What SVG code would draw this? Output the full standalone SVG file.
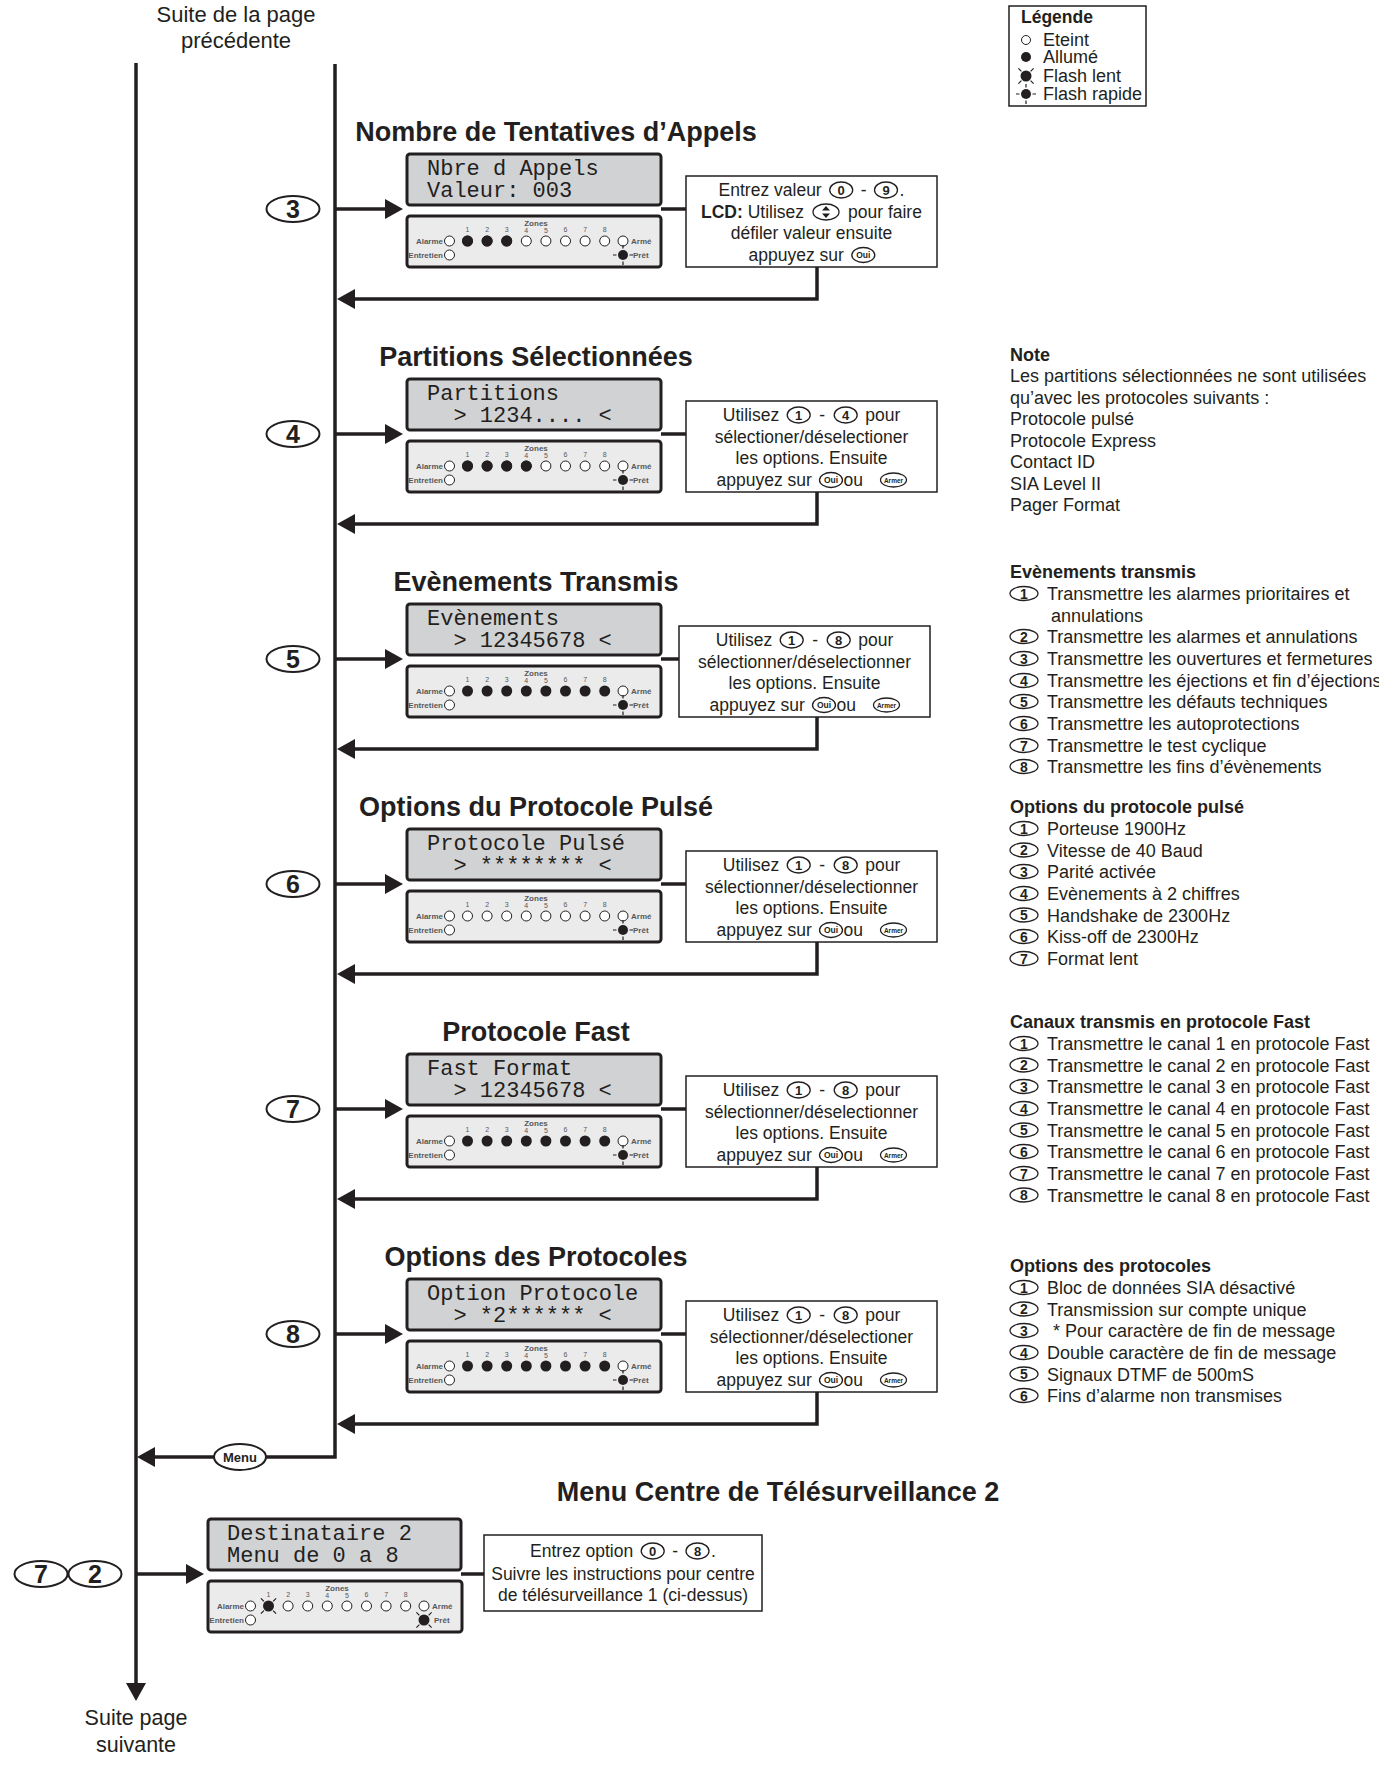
<svg xmlns="http://www.w3.org/2000/svg" width="1379" height="1765" viewBox="0 0 1379 1765">
<style>
text{font-family:"Liberation Sans",Arial,sans-serif;fill:#231f20}
.ln{stroke:#231f20;stroke-width:3.5;fill:none}
.lcd{fill:#d1d2d4;stroke:#231f20;stroke-width:3}
.pnl{fill:#ebebec;stroke:#231f20;stroke-width:3}
.box{fill:#fff;stroke:#231f20;stroke-width:1.5}
.ttl{font-weight:bold;font-size:27px;text-anchor:middle}
.lcdt{font-family:"Liberation Mono","DejaVu Sans Mono",monospace;font-size:22px}
.bt{font-size:17.5px}
.bm{font-size:17.5px;text-anchor:middle}
.rt{font-size:18px}
.rh{font-size:18px;font-weight:bold}
.led{fill:#fff;stroke:#231f20;stroke-width:1}
.on{fill:#231f20}
.pt{font-size:8px;font-weight:bold;fill:#58595b}
.dg{font-size:7px;fill:#58595b;text-anchor:middle}
.key{fill:#fff;stroke:#231f20;stroke-width:1.3}
.kn{font-size:13px;font-weight:bold;text-anchor:middle}
.ko{font-size:8.5px;font-weight:bold;text-anchor:middle}
.ka{font-size:6.5px;font-weight:bold;text-anchor:middle}
.ln2{font-size:14px;font-weight:bold;text-anchor:middle}
.cn{fill:#fff;stroke:#231f20;stroke-width:2}
.cnt{font-size:25px;font-weight:bold;text-anchor:middle}
.ray{stroke:#231f20;stroke-width:1.2}
.suite{font-size:22px;text-anchor:middle}
</style>
<defs>
<marker id="ah" viewBox="0 0 18 20" refX="8" refY="10" markerWidth="18" markerHeight="20" orient="auto" markerUnits="userSpaceOnUse">
<path d="M0,0 L18,10 L0,20 Z" fill="#231f20"/>
</marker>
<g id="fr"><circle r="5" fill="#231f20"/><path class="ray" d="M0,-6.5V-10M0,6.5V10M-6.5,0H-10M6.5,0H10"/></g>
<g id="fl"><circle r="5.5" fill="#231f20"/><path class="ray" d="M-4.6,-4.6L-7.6,-7.6M4.6,-4.6L7.6,-7.6M-4.6,4.6L-7.6,7.6M4.6,4.6L7.6,7.6"/></g>
<g id="pbase">
<rect x="0" y="0" width="254" height="51" rx="3" class="pnl"/>
<text x="129" y="10" class="pt" text-anchor="middle">Zones</text>
<text x="60.5" y="16" class="dg">1</text><text x="80.1" y="16" class="dg">2</text><text x="99.7" y="16" class="dg">3</text><text x="119.3" y="17" class="dg">4</text><text x="138.9" y="17" class="dg">5</text><text x="158.5" y="16" class="dg">6</text><text x="178.1" y="16" class="dg">7</text><text x="197.7" y="16" class="dg">8</text>
<circle cx="42.5" cy="25" r="5" class="led"/><text x="36" y="28" class="pt" text-anchor="end">Alarme</text>
<circle cx="216" cy="25" r="5" class="led"/><text x="224" y="28" class="pt">Armé</text>
<circle cx="42.5" cy="39" r="5" class="led"/><text x="36" y="42" class="pt" text-anchor="end">Entretien</text>
<text x="226" y="42" class="pt">Prêt</text>
</g>
<g id="off8">
<circle cx="60.5" cy="25" r="5" class="led"/><circle cx="80.1" cy="25" r="5" class="led"/><circle cx="99.7" cy="25" r="5" class="led"/><circle cx="119.3" cy="25" r="5" class="led"/><circle cx="138.9" cy="25" r="5" class="led"/><circle cx="158.5" cy="25" r="5" class="led"/><circle cx="178.1" cy="25" r="5" class="led"/><circle cx="197.7" cy="25" r="5" class="led"/>
</g>
<g id="on8">
<circle cx="60.5" cy="25" r="5.5" class="on"/><circle cx="80.1" cy="25" r="5.5" class="on"/><circle cx="99.7" cy="25" r="5.5" class="on"/><circle cx="119.3" cy="25" r="5.5" class="on"/><circle cx="138.9" cy="25" r="5.5" class="on"/><circle cx="158.5" cy="25" r="5.5" class="on"/><circle cx="178.1" cy="25" r="5.5" class="on"/><circle cx="197.7" cy="25" r="5.5" class="on"/>
</g>
</defs>
<rect width="1379" height="1765" fill="#fff"/>

<g id="connectors">
<path class="ln" d="M136,63V1691" marker-end="url(#ah)"/>
<path class="ln" d="M335,64V1457H266"/>
<path class="ln" d="M214,1457H147" marker-end="url(#ah)"/>
<path class="ln" d="M335,209H393" marker-end="url(#ah)"/>
<path class="ln" d="M661,209H686"/>
<path class="ln" d="M817,267V299H347" marker-end="url(#ah)"/>
<path class="ln" d="M335,434H393" marker-end="url(#ah)"/>
<path class="ln" d="M661,434H686"/>
<path class="ln" d="M817,492V524H347" marker-end="url(#ah)"/>
<path class="ln" d="M335,659H393" marker-end="url(#ah)"/>
<path class="ln" d="M661,659H679"/>
<path class="ln" d="M817,717V749H347" marker-end="url(#ah)"/>
<path class="ln" d="M335,884H393" marker-end="url(#ah)"/>
<path class="ln" d="M661,884H686"/>
<path class="ln" d="M817,942V974H347" marker-end="url(#ah)"/>
<path class="ln" d="M335,1109H393" marker-end="url(#ah)"/>
<path class="ln" d="M661,1109H686"/>
<path class="ln" d="M817,1167V1199H347" marker-end="url(#ah)"/>
<path class="ln" d="M335,1334H393" marker-end="url(#ah)"/>
<path class="ln" d="M661,1334H686"/>
<path class="ln" d="M817,1392V1424H347" marker-end="url(#ah)"/>
<path class="ln" d="M136,1574H194" marker-end="url(#ah)"/>
<path class="ln" d="M461,1574H484"/>
</g>

<g id="page-labels">
<text x="236" y="22" class="suite">Suite de la page</text>
<text x="236" y="48" class="suite">précédente</text>
<text x="136" y="1725" class="suite" style="font-size:21.5px">Suite page</text>
<text x="136" y="1752" class="suite" style="font-size:21.5px">suivante</text>
</g>

<g id="legend">
<rect x="1009" y="6" width="137" height="100" fill="#fff" stroke="#231f20" stroke-width="1.5"/>
<text x="1021" y="23" style="font-size:17.5px;font-weight:bold">Légende</text>
<circle cx="1026" cy="40" r="4.5" class="led"/><text x="1043" y="46" style="font-size:18px">Eteint</text>
<circle cx="1026" cy="57" r="5" class="on"/><text x="1043" y="63" style="font-size:18px">Allumé</text>
<use href="#fl" x="1026" y="76"/><text x="1043" y="82" style="font-size:18px">Flash lent</text>
<use href="#fr" x="1026" y="94"/><text x="1043" y="100" style="font-size:18px">Flash rapide</text>
</g>

<g id="menu-key">
<ellipse cx="240" cy="1457" rx="26" ry="13" class="cn"/>
<text x="240" y="1462" style="font-size:13px;font-weight:bold;text-anchor:middle">Menu</text>
</g>

<!-- Block 3 -->
<g id="node-3">
<text x="556" y="141" class="ttl">Nombre de Tentatives d’Appels</text>
<ellipse cx="293" cy="209" rx="26.5" ry="13" class="cn"/><text x="293" y="218" class="cnt">3</text>
<rect x="407" y="154" width="254" height="51" rx="3" class="lcd"/>
<text x="427" y="175" class="lcdt">Nbre d Appels</text>
<text x="427" y="197" class="lcdt">Valeur: 003</text>
<g transform="translate(407,216)"><use href="#pbase"/><use href="#off8"/>
<circle cx="60.5" cy="25" r="5.5" class="on"/><circle cx="80.1" cy="25" r="5.5" class="on"/><circle cx="99.7" cy="25" r="5.5" class="on"/>
<use href="#fr" x="216" y="39"/></g>
<rect x="686" y="176" width="251" height="91" class="box"/>
<text x="718.6" y="196" class="bt">Entrez valeur</text>
<ellipse cx="841.2" cy="190" rx="11.5" ry="8" class="key"/><text x="841.2" y="194.5" class="kn">0</text>
<text x="863.6" y="196" class="bm">-</text>
<ellipse cx="886" cy="190" rx="11.5" ry="8" class="key"/><text x="886" y="194.5" class="kn">9</text>
<text x="899.5" y="196" class="bt">.</text>
<text x="701" y="218" class="bt"><tspan font-weight="bold">LCD:</tspan> Utilisez</text>
<ellipse cx="826" cy="212" rx="13" ry="8" class="key"/><path d="M826,206L830,210.5H822ZM826,218L830,213.5H822Z" fill="#231f20"/>
<text x="848" y="218" class="bt">pour faire</text>
<text x="811.5" y="239" class="bm">défiler valeur ensuite</text>
<text x="748.5" y="261" class="bt">appuyez sur</text>
<ellipse cx="863.3" cy="255" rx="11.5" ry="7.5" class="key"/><text x="863.3" y="258" class="ko">Oui</text>
</g>

<!-- Block 4 -->
<g id="node-4">
<text x="536" y="366" class="ttl">Partitions Sélectionnées</text>
<ellipse cx="293" cy="434" rx="26.5" ry="13" class="cn"/><text x="293" y="443" class="cnt">4</text>
<rect x="407" y="379" width="254" height="51" rx="3" class="lcd"/>
<text x="427" y="400" class="lcdt">Partitions</text>
<text x="453.4" y="422" class="lcdt">&gt; 1234.... &lt;</text>
<g transform="translate(407,441)"><use href="#pbase"/><use href="#off8"/>
<circle cx="60.5" cy="25" r="5.5" class="on"/><circle cx="80.1" cy="25" r="5.5" class="on"/><circle cx="99.7" cy="25" r="5.5" class="on"/><circle cx="119.3" cy="25" r="5.5" class="on"/>
<use href="#fr" x="216" y="39"/></g>
<rect x="686" y="401" width="251" height="91" class="box"/>
<text x="722.8" y="421" class="bt">Utilisez</text>
<ellipse cx="798.7" cy="415" rx="11.5" ry="8" class="key"/><text x="798.7" y="419.5" class="kn">1</text>
<text x="822.2" y="421" class="bm">-</text>
<ellipse cx="845.7" cy="415" rx="11.5" ry="8" class="key"/><text x="845.7" y="419.5" class="kn">4</text>
<text x="865.2" y="421" class="bt">pour</text>
<text x="811.5" y="443" class="bm">sélectioner/déselectioner</text>
<text x="811.5" y="464" class="bm">les options. Ensuite</text>
<text x="716.5" y="486" class="bt">appuyez sur</text>
<ellipse cx="831" cy="480" rx="11.5" ry="7.5" class="key"/><text x="831" y="483" class="ko">Oui</text>
<text x="843.5" y="486" class="bt">ou</text>
<ellipse cx="893.5" cy="480" rx="13" ry="7" class="key"/><text x="893.5" y="482.5" class="ka">Armer</text>
</g>

<!-- Block 5 -->
<g id="node-5">
<text x="536" y="591" class="ttl">Evènements Transmis</text>
<ellipse cx="293" cy="659" rx="26.5" ry="13" class="cn"/><text x="293" y="668" class="cnt">5</text>
<rect x="407" y="604" width="254" height="51" rx="3" class="lcd"/>
<text x="427" y="625" class="lcdt">Evènements</text>
<text x="453.4" y="647" class="lcdt">&gt; 12345678 &lt;</text>
<g transform="translate(407,666)"><use href="#pbase"/><use href="#on8"/><use href="#fr" x="216" y="39"/></g>
<rect x="679" y="626" width="251" height="91" class="box"/>
<text x="715.8" y="646" class="bt">Utilisez</text>
<ellipse cx="791.7" cy="640" rx="11.5" ry="8" class="key"/><text x="791.7" y="644.5" class="kn">1</text>
<text x="815.2" y="646" class="bm">-</text>
<ellipse cx="838.7" cy="640" rx="11.5" ry="8" class="key"/><text x="838.7" y="644.5" class="kn">8</text>
<text x="858.2" y="646" class="bt">pour</text>
<text x="804.5" y="668" class="bm">sélectionner/déselectionner</text>
<text x="804.5" y="689" class="bm">les options. Ensuite</text>
<text x="709.5" y="711" class="bt">appuyez sur</text>
<ellipse cx="824" cy="705" rx="11.5" ry="7.5" class="key"/><text x="824" y="708" class="ko">Oui</text>
<text x="836.5" y="711" class="bt">ou</text>
<ellipse cx="886.5" cy="705" rx="13" ry="7" class="key"/><text x="886.5" y="707.5" class="ka">Armer</text>
</g>

<!-- Block 6 -->
<g id="node-6">
<text x="536" y="816" class="ttl">Options du Protocole Pulsé</text>
<ellipse cx="293" cy="884" rx="26.5" ry="13" class="cn"/><text x="293" y="893" class="cnt">6</text>
<rect x="407" y="829" width="254" height="51" rx="3" class="lcd"/>
<text x="427" y="850" class="lcdt">Protocole Pulsé</text>
<text x="453.4" y="872" class="lcdt">&gt; ******** &lt;</text>
<g transform="translate(407,891)"><use href="#pbase"/><use href="#off8"/><use href="#fr" x="216" y="39"/></g>
<rect x="686" y="851" width="251" height="91" class="box"/>
<text x="722.8" y="871" class="bt">Utilisez</text>
<ellipse cx="798.7" cy="865" rx="11.5" ry="8" class="key"/><text x="798.7" y="869.5" class="kn">1</text>
<text x="822.2" y="871" class="bm">-</text>
<ellipse cx="845.7" cy="865" rx="11.5" ry="8" class="key"/><text x="845.7" y="869.5" class="kn">8</text>
<text x="865.2" y="871" class="bt">pour</text>
<text x="811.5" y="893" class="bm">sélectionner/déselectionner</text>
<text x="811.5" y="914" class="bm">les options. Ensuite</text>
<text x="716.5" y="936" class="bt">appuyez sur</text>
<ellipse cx="831" cy="930" rx="11.5" ry="7.5" class="key"/><text x="831" y="933" class="ko">Oui</text>
<text x="843.5" y="936" class="bt">ou</text>
<ellipse cx="893.5" cy="930" rx="13" ry="7" class="key"/><text x="893.5" y="932.5" class="ka">Armer</text>
</g>

<!-- Block 7 -->
<g id="node-7">
<text x="536" y="1041" class="ttl">Protocole Fast</text>
<ellipse cx="293" cy="1109" rx="26.5" ry="13" class="cn"/><text x="293" y="1118" class="cnt">7</text>
<rect x="407" y="1054" width="254" height="51" rx="3" class="lcd"/>
<text x="427" y="1075" class="lcdt">Fast Format</text>
<text x="453.4" y="1097" class="lcdt">&gt; 12345678 &lt;</text>
<g transform="translate(407,1116)"><use href="#pbase"/><use href="#on8"/><use href="#fr" x="216" y="39"/></g>
<rect x="686" y="1076" width="251" height="91" class="box"/>
<text x="722.8" y="1096" class="bt">Utilisez</text>
<ellipse cx="798.7" cy="1090" rx="11.5" ry="8" class="key"/><text x="798.7" y="1094.5" class="kn">1</text>
<text x="822.2" y="1096" class="bm">-</text>
<ellipse cx="845.7" cy="1090" rx="11.5" ry="8" class="key"/><text x="845.7" y="1094.5" class="kn">8</text>
<text x="865.2" y="1096" class="bt">pour</text>
<text x="811.5" y="1118" class="bm">sélectionner/déselectionner</text>
<text x="811.5" y="1139" class="bm">les options. Ensuite</text>
<text x="716.5" y="1161" class="bt">appuyez sur</text>
<ellipse cx="831" cy="1155" rx="11.5" ry="7.5" class="key"/><text x="831" y="1158" class="ko">Oui</text>
<text x="843.5" y="1161" class="bt">ou</text>
<ellipse cx="893.5" cy="1155" rx="13" ry="7" class="key"/><text x="893.5" y="1157.5" class="ka">Armer</text>
</g>

<!-- Block 8 -->
<g id="node-8">
<text x="536" y="1266" class="ttl">Options des Protocoles</text>
<ellipse cx="293" cy="1334" rx="26.5" ry="13" class="cn"/><text x="293" y="1343" class="cnt">8</text>
<rect x="407" y="1279" width="254" height="51" rx="3" class="lcd"/>
<text x="427" y="1300" class="lcdt">Option Protocole</text>
<text x="453.4" y="1322" class="lcdt">&gt; *2****** &lt;</text>
<g transform="translate(407,1341)"><use href="#pbase"/><use href="#on8"/><use href="#fr" x="216" y="39"/></g>
<rect x="686" y="1301" width="251" height="91" class="box"/>
<text x="722.8" y="1321" class="bt">Utilisez</text>
<ellipse cx="798.7" cy="1315" rx="11.5" ry="8" class="key"/><text x="798.7" y="1319.5" class="kn">1</text>
<text x="822.2" y="1321" class="bm">-</text>
<ellipse cx="845.7" cy="1315" rx="11.5" ry="8" class="key"/><text x="845.7" y="1319.5" class="kn">8</text>
<text x="865.2" y="1321" class="bt">pour</text>
<text x="811.5" y="1343" class="bm">sélectionner/déselectioner</text>
<text x="811.5" y="1364" class="bm">les options. Ensuite</text>
<text x="716.5" y="1386" class="bt">appuyez sur</text>
<ellipse cx="831" cy="1380" rx="11.5" ry="7.5" class="key"/><text x="831" y="1383" class="ko">Oui</text>
<text x="843.5" y="1386" class="bt">ou</text>
<ellipse cx="893.5" cy="1380" rx="13" ry="7" class="key"/><text x="893.5" y="1382.5" class="ka">Armer</text>
</g>

<!-- Block 9 -->
<g id="node-72">
<text x="778" y="1501" class="ttl">Menu Centre de Télésurveillance 2</text>
<ellipse cx="41" cy="1574" rx="26.5" ry="13" class="cn"/><text x="41" y="1583" class="cnt">7</text>
<ellipse cx="95" cy="1574" rx="26.5" ry="13" class="cn"/><text x="95" y="1583" class="cnt">2</text>
<rect x="208" y="1519" width="253" height="51" rx="3" class="lcd"/>
<text x="227" y="1540" class="lcdt">Destinataire 2</text>
<text x="227" y="1562" class="lcdt">Menu de 0 a 8</text>
<g transform="translate(208,1581)"><use href="#pbase"/>
<circle cx="80.1" cy="25" r="5" class="led"/><circle cx="99.7" cy="25" r="5" class="led"/><circle cx="119.3" cy="25" r="5" class="led"/><circle cx="138.9" cy="25" r="5" class="led"/><circle cx="158.5" cy="25" r="5" class="led"/><circle cx="178.1" cy="25" r="5" class="led"/><circle cx="197.7" cy="25" r="5" class="led"/>
<use href="#fl" x="60.5" y="25"/><use href="#fl" x="216" y="39"/></g>
<rect x="484" y="1535" width="278" height="76" class="box"/>
<text x="530.1" y="1557" class="bt">Entrez option</text>
<ellipse cx="652.7" cy="1551" rx="11.5" ry="8" class="key"/><text x="652.7" y="1555.5" class="kn">0</text>
<text x="675.1" y="1557" class="bm">-</text>
<ellipse cx="697.5" cy="1551" rx="11.5" ry="8" class="key"/><text x="697.5" y="1555.5" class="kn">8</text>
<text x="711" y="1557" class="bt">.</text>
<text x="623" y="1580" class="bm">Suivre les instructions pour centre</text>
<text x="623" y="1601" class="bm">de télésurveillance 1 (ci-dessus)</text>
</g>

<!-- Right column notes -->
<g id="note">
<text x="1010" y="361" class="rh">Note</text>
<text x="1010" y="382" class="rt">Les partitions sélectionnées ne sont utilisées</text>
<text x="1010" y="404" class="rt">qu’avec les protocoles suivants :</text>
<text x="1010" y="425" class="rt">Protocole pulsé</text>
<text x="1010" y="447" class="rt">Protocole Express</text>
<text x="1010" y="468" class="rt">Contact ID</text>
<text x="1010" y="490" class="rt">SIA Level II</text>
<text x="1010" y="511" class="rt">Pager Format</text>
</g>

<g id="list-evenements">
<text x="1010" y="578" class="rh">Evènements transmis</text>
<ellipse cx="1024" cy="593.5" rx="14" ry="7" class="key"/><text x="1024" y="598.5" class="ln2">1</text><text x="1047" y="600" class="rt">Transmettre les alarmes prioritaires et</text>
<text x="1051" y="622" class="rt">annulations</text>
<ellipse cx="1024" cy="636.5" rx="14" ry="7" class="key"/><text x="1024" y="641.5" class="ln2">2</text><text x="1047" y="643" class="rt">Transmettre les alarmes et annulations</text>
<ellipse cx="1024" cy="658.5" rx="14" ry="7" class="key"/><text x="1024" y="663.5" class="ln2">3</text><text x="1047" y="665" class="rt">Transmettre les ouvertures et fermetures</text>
<ellipse cx="1024" cy="680.5" rx="14" ry="7" class="key"/><text x="1024" y="685.5" class="ln2">4</text><text x="1047" y="687" class="rt">Transmettre les éjections et fin d’éjections</text>
<ellipse cx="1024" cy="701.5" rx="14" ry="7" class="key"/><text x="1024" y="706.5" class="ln2">5</text><text x="1047" y="708" class="rt">Transmettre les défauts techniques</text>
<ellipse cx="1024" cy="723.5" rx="14" ry="7" class="key"/><text x="1024" y="728.5" class="ln2">6</text><text x="1047" y="730" class="rt">Transmettre les autoprotections</text>
<ellipse cx="1024" cy="745.5" rx="14" ry="7" class="key"/><text x="1024" y="750.5" class="ln2">7</text><text x="1047" y="752" class="rt">Transmettre le test cyclique</text>
<ellipse cx="1024" cy="766.5" rx="14" ry="7" class="key"/><text x="1024" y="771.5" class="ln2">8</text><text x="1047" y="773" class="rt">Transmettre les fins d’évènements</text>
</g>

<g id="list-pulse">
<text x="1010" y="813" class="rh">Options du protocole pulsé</text>
<ellipse cx="1024" cy="828.5" rx="14" ry="7" class="key"/><text x="1024" y="833.5" class="ln2">1</text><text x="1047" y="835" class="rt">Porteuse 1900Hz</text>
<ellipse cx="1024" cy="850" rx="14" ry="7" class="key"/><text x="1024" y="855" class="ln2">2</text><text x="1047" y="856.5" class="rt">Vitesse de 40 Baud</text>
<ellipse cx="1024" cy="871.5" rx="14" ry="7" class="key"/><text x="1024" y="876.5" class="ln2">3</text><text x="1047" y="878" class="rt">Parité activée</text>
<ellipse cx="1024" cy="893.5" rx="14" ry="7" class="key"/><text x="1024" y="898.5" class="ln2">4</text><text x="1047" y="900" class="rt">Evènements à 2 chiffres</text>
<ellipse cx="1024" cy="915" rx="14" ry="7" class="key"/><text x="1024" y="920" class="ln2">5</text><text x="1047" y="921.5" class="rt">Handshake de 2300Hz</text>
<ellipse cx="1024" cy="936.5" rx="14" ry="7" class="key"/><text x="1024" y="941.5" class="ln2">6</text><text x="1047" y="943" class="rt">Kiss-off de 2300Hz</text>
<ellipse cx="1024" cy="958.5" rx="14" ry="7" class="key"/><text x="1024" y="963.5" class="ln2">7</text><text x="1047" y="965" class="rt">Format lent</text>
</g>

<g id="list-fast">
<text x="1010" y="1028" class="rh">Canaux transmis en protocole Fast</text>
<ellipse cx="1024" cy="1043.5" rx="14" ry="7" class="key"/><text x="1024" y="1048.5" class="ln2">1</text><text x="1047" y="1050" class="rt">Transmettre le canal 1 en protocole Fast</text>
<ellipse cx="1024" cy="1065" rx="14" ry="7" class="key"/><text x="1024" y="1070" class="ln2">2</text><text x="1047" y="1071.6" class="rt">Transmettre le canal 2 en protocole Fast</text>
<ellipse cx="1024" cy="1086.5" rx="14" ry="7" class="key"/><text x="1024" y="1091.5" class="ln2">3</text><text x="1047" y="1093" class="rt">Transmettre le canal 3 en protocole Fast</text>
<ellipse cx="1024" cy="1108.5" rx="14" ry="7" class="key"/><text x="1024" y="1113.5" class="ln2">4</text><text x="1047" y="1115" class="rt">Transmettre le canal 4 en protocole Fast</text>
<ellipse cx="1024" cy="1130" rx="14" ry="7" class="key"/><text x="1024" y="1135" class="ln2">5</text><text x="1047" y="1136.6" class="rt">Transmettre le canal 5 en protocole Fast</text>
<ellipse cx="1024" cy="1151.5" rx="14" ry="7" class="key"/><text x="1024" y="1156.5" class="ln2">6</text><text x="1047" y="1158" class="rt">Transmettre le canal 6 en protocole Fast</text>
<ellipse cx="1024" cy="1173.5" rx="14" ry="7" class="key"/><text x="1024" y="1178.5" class="ln2">7</text><text x="1047" y="1180" class="rt">Transmettre le canal 7 en protocole Fast</text>
<ellipse cx="1024" cy="1195" rx="14" ry="7" class="key"/><text x="1024" y="1200" class="ln2">8</text><text x="1047" y="1201.6" class="rt">Transmettre le canal 8 en protocole Fast</text>
</g>

<g id="list-options">
<text x="1010" y="1272" class="rh">Options des protocoles</text>
<ellipse cx="1024" cy="1287.5" rx="14" ry="7" class="key"/><text x="1024" y="1292.5" class="ln2">1</text><text x="1047" y="1294" class="rt">Bloc de données SIA désactivé</text>
<ellipse cx="1024" cy="1309" rx="14" ry="7" class="key"/><text x="1024" y="1314" class="ln2">2</text><text x="1047" y="1315.6" class="rt">Transmission sur compte unique</text>
<ellipse cx="1024" cy="1330.5" rx="14" ry="7" class="key"/><text x="1024" y="1335.5" class="ln2">3</text><text x="1053" y="1337" class="rt">* Pour caractère de fin de message</text>
<ellipse cx="1024" cy="1352.5" rx="14" ry="7" class="key"/><text x="1024" y="1357.5" class="ln2">4</text><text x="1047" y="1359" class="rt">Double caractère de fin de message</text>
<ellipse cx="1024" cy="1374" rx="14" ry="7" class="key"/><text x="1024" y="1379" class="ln2">5</text><text x="1047" y="1380.6" class="rt">Signaux DTMF de 500mS</text>
<ellipse cx="1024" cy="1395.5" rx="14" ry="7" class="key"/><text x="1024" y="1400.5" class="ln2">6</text><text x="1047" y="1402" class="rt">Fins d’alarme non transmises</text>
</g>
</svg>
